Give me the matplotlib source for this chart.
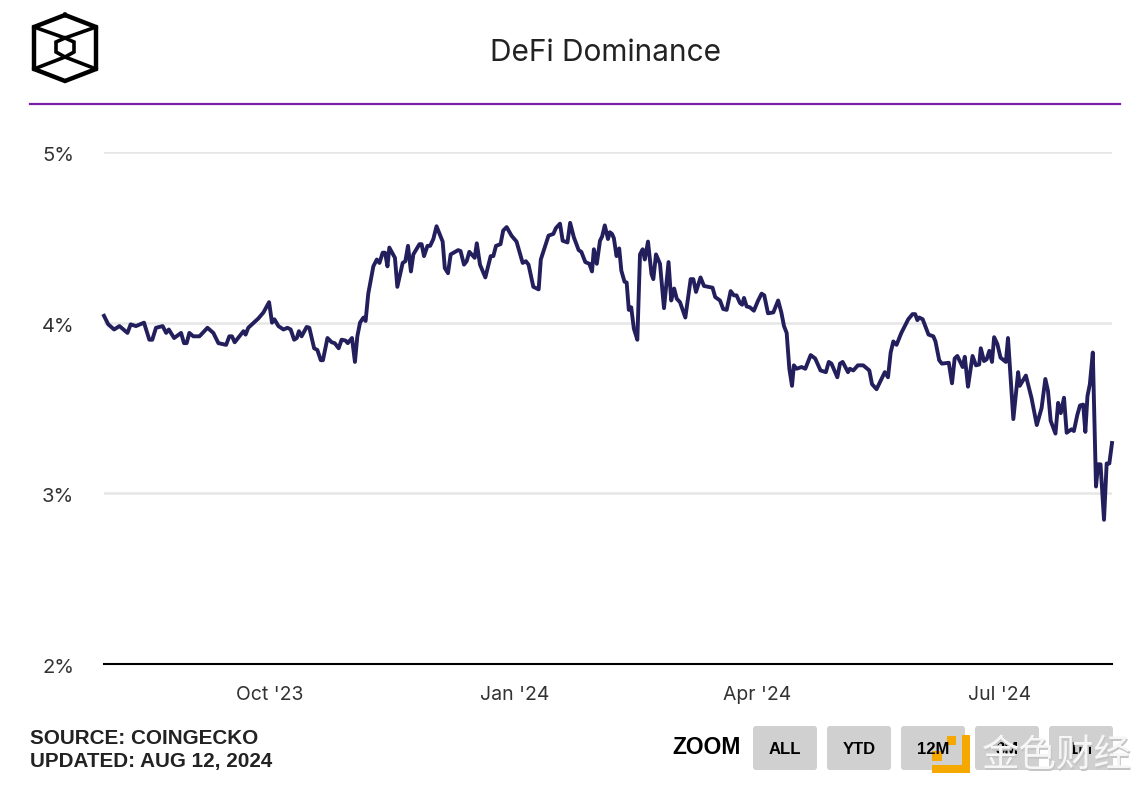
import numpy as np
import pandas as pd
import matplotlib
matplotlib.use('Agg')
from matplotlib import pyplot as plt
from matplotlib.patches import FancyBboxPatch, Rectangle
from matplotlib.transforms import ScaledTranslation

# days since the first point of the series
days = [0, 1.6, 3.8, 5.8, 8.8, 10, 12, 15, 17, 18.1, 19.5, 22, 23.3, 24.3, 26.3, 28.9, 30, 31, 32, 33.5,
        35.8, 38.8, 41, 42.9, 45.8, 47, 48, 49, 52.3, 53.1, 54.1, 57.9, 59.8, 61.9, 63, 63.9, 65.4, 67.3, 68.8, 70,
        71.3, 72.3, 73.1, 74.1, 76, 77, 78.8, 80, 81.3, 82.1, 83.8, 85.4, 86.5, 88, 89.1, 90.6, 91.4, 93, 94.1, 95,
        96, 97.3, 98.1, 99.1, 101, 102.3, 103.3, 104.5, 105.4, 106.3, 107, 109.1, 110, 112, 113, 114, 115.1, 116, 118.3, 119.1,
        120, 121.3, 122.3, 123.5, 124.7, 127, 127.8, 129, 130, 132.8, 133.7, 135, 136, 137, 139, 139.8, 141, 143, 145, 146,
        147, 148.7, 149.7, 151, 152.8, 154.7, 157, 158.2, 159.2, 161, 163, 163.8, 166.7, 168.5, 169.5, 171, 172, 173.8, 174.8, 176.2,
        178, 179, 180.5, 182, 183, 183.7, 184.8, 186, 186.8, 187.8, 189, 189.7, 190.5, 191.2, 192.2, 193.2, 194, 195.2, 196, 196.8,
        197.7, 198.7, 200, 201, 202, 202.8, 204, 205.3, 206, 207, 208.5, 210, 211.7, 212.7, 213.8, 214.8, 216, 218, 220, 221,
        222, 223.7, 225, 228.2, 229.2, 231, 232.2, 233.5, 235, 236.2, 237.2, 238.5, 239.3, 240, 241, 242.2, 243.7, 245.3, 246.6, 247.6,
        249, 251, 252.8, 254, 255, 256, 257, 258, 258.7, 259.7, 261.6, 263, 265, 266.7, 268.7, 270.7, 271.8, 272.8, 275, 276,
        277, 279, 279.7, 281, 282.7, 284.7, 287, 288, 289.7, 292.8, 294, 295, 296, 297.2, 299, 301.6, 303.2, 304.2, 305, 305.7,
        307, 309.2, 311, 311.8, 313.2, 314.2, 316.8, 318, 319, 320, 322, 322.8, 324, 325.7, 327, 328.2, 328.8, 330, 331, 332,
        333, 333.8, 335, 336.2, 338.2, 339, 341, 342.8, 343.4, 345.7, 347.8, 349.8, 351.6, 353, 354, 355, 356.8, 357.8, 358.8, 360,
        361, 362.8, 363.7, 365, 366, 367.2, 368, 368.8, 369.7, 370.8, 372, 372.8, 373.7, 375, 376, 377, 378]
dominance = [4.04, 3.99, 3.96, 3.98, 3.94, 3.99, 3.98, 4.00, 3.90, 3.90, 3.97, 3.98, 3.94, 3.96, 3.91, 3.94, 3.88, 3.88, 3.94, 3.92,
             3.92, 3.97, 3.94, 3.88, 3.87, 3.92, 3.92, 3.885, 3.95, 3.93, 3.97, 4.025, 4.06, 4.12, 4.00, 4.02, 3.98, 3.96, 3.97, 3.96,
             3.90, 3.91, 3.95, 3.92, 3.975, 3.97, 3.85, 3.84, 3.78, 3.78, 3.91, 3.885, 3.88, 3.85, 3.90, 3.895, 3.88, 3.91, 3.77, 3.92,
             4.00, 4.03, 4.01, 4.17, 4.33, 4.37, 4.35, 4.41, 4.41, 4.33, 4.44, 4.38, 4.21, 4.35, 4.36, 4.45, 4.30, 4.40, 4.46, 4.46,
             4.39, 4.45, 4.45, 4.49, 4.565, 4.475, 4.32, 4.29, 4.40, 4.425, 4.42, 4.34, 4.36, 4.415, 4.38, 4.465, 4.34, 4.265, 4.39, 4.39,
             4.45, 4.46, 4.54, 4.56, 4.51, 4.475, 4.35, 4.36, 4.34, 4.21, 4.195, 4.37, 4.51, 4.52, 4.555, 4.58, 4.48, 4.47, 4.585, 4.50,
             4.425, 4.415, 4.355, 4.345, 4.30, 4.43, 4.345, 4.48, 4.505, 4.57, 4.49, 4.53, 4.52, 4.495, 4.39, 4.435, 4.305, 4.24, 4.235, 4.075,
             4.09, 3.965, 3.90, 4.40, 4.43, 4.37, 4.475, 4.285, 4.255, 4.40, 4.345, 4.085, 4.355, 4.13, 4.20, 4.14, 4.12, 4.03, 4.255, 4.255,
             4.18, 4.265, 4.215, 4.205, 4.15, 4.13, 4.08, 4.075, 4.185, 4.16, 4.16, 4.115, 4.105, 4.145, 4.095, 4.09, 4.07, 4.13, 4.17, 4.16,
             4.055, 4.06, 4.13, 4.06, 3.98, 3.94, 3.73, 3.63, 3.75, 3.73, 3.74, 3.73, 3.81, 3.79, 3.72, 3.71, 3.77, 3.76, 3.68, 3.76,
             3.77, 3.71, 3.73, 3.72, 3.75, 3.75, 3.72, 3.64, 3.61, 3.71, 3.68, 3.825, 3.89, 3.87, 3.94, 4.02, 4.05, 4.05, 4.015, 4.03,
             4.02, 3.93, 3.92, 3.89, 3.78, 3.76, 3.765, 3.645, 3.79, 3.805, 3.74, 3.80, 3.625, 3.805, 3.75, 3.755, 3.85, 3.775, 3.785, 3.835,
             3.77, 3.915, 3.875, 3.795, 3.77, 3.91, 3.435, 3.71, 3.63, 3.69, 3.56, 3.40, 3.50, 3.67, 3.60, 3.425, 3.35, 3.53, 3.47, 3.56,
             3.355, 3.375, 3.365, 3.46, 3.515, 3.52, 3.36, 3.57, 3.64, 3.825, 3.04, 3.17, 3.17, 2.845, 3.175, 3.175, 3.295]

start_date = pd.Timestamp('2023-07-31')
x_ticks = ['2023-10-01', '2024-01-01', '2024-04-01', '2024-07-01']
x_labels = ["Oct '23", "Jan '24", "Apr '24", "Jul '24"]
y_ticks = [2, 3, 4, 5]
y_labels = ['2%', '3%', '4%', '5%']
buttons = ['ALL', 'YTD', '12M', '3M', '1M']

W, H = 1144, 788
plt.rcParams['font.family'] = ['Inter', 'DejaVu Sans']
fig = plt.figure(figsize=(W / 100, H / 100), dpi=100, facecolor='white')

ax = fig.add_axes([104 / W, (H - 664) / H, 1008 / W, 512 / H])
dates = start_date + pd.to_timedelta(days, unit='D')
ax.plot(dates, dominance, color='#231f5c', lw=2.8, solid_joinstyle='round', zorder=3, clip_on=False)
ax.set_xlim(start_date, start_date + pd.Timedelta(days=378))
ax.set_ylim(2, 5)
ax.set_xticks(pd.to_datetime(x_ticks))
ax.set_xticklabels(x_labels, fontsize=14, color='#333333')
ax.set_yticks(y_ticks)
ax.set_yticklabels(y_labels, fontsize=14.5, color='#333333', va='center')
ax.tick_params(axis='x', length=0, pad=16)
ax.tick_params(axis='y', length=0, pad=21.5)
ax.grid(axis='y', color='#e6e6e6', lw=1.8)
ax.set_axisbelow(True)
for side in ['top', 'right', 'left']:
    ax.spines[side].set_visible(False)
ax.spines['bottom'].set_color('black')
ax.spines['bottom'].set_linewidth(1.5)
# percent labels sit a little under their gridlines
shift = ScaledTranslation(0, -0.04, fig.dpi_scale_trans)
for lbl in ax.get_yticklabels():
    lbl.set_transform(lbl.get_transform() + shift)

# header, footer and logo are placed in pixel coordinates
px = fig.add_axes([0, 0, 1, 1], zorder=5)
px.set_xlim(0, W)
px.set_ylim(H, 0)
px.axis('off')
px.patch.set_alpha(0)

px.text(606, 52.5, 'DeFi Dominance', ha='center', va='center', fontsize=21.5, color='#222222')
px.plot([30, 1120], [103.5, 103.5], color='#7a1fa8', lw=1.6)

hexagon = np.array([[65, 15], [96, 27], [96, 69], [65, 81], [34, 69], [34, 27], [65, 15]])
inner = np.array([[65, 38], [74, 42], [74, 52], [65, 57], [56, 52], [56, 42], [65, 38]])
px.plot(hexagon[:, 0], hexagon[:, 1], color='black', lw=3.2, solid_joinstyle='miter')
px.plot(inner[:, 0], inner[:, 1], color='black', lw=2.6, solid_joinstyle='miter')
px.plot([34, 65, 96], [27, 38, 27], color='black', lw=2.6)
px.plot([34, 65, 96], [69, 57, 69], color='black', lw=2.6)

src_font = ['Liberation Sans', 'DejaVu Sans']
px.text(30, 738, 'SOURCE: COINGECKO', fontsize=14.9, fontweight='bold', family=src_font, color='#222222', va='center')
px.text(30, 762, 'UPDATED: AUG 12, 2024', fontsize=14.9, fontweight='bold', family=src_font, color='#222222', va='center')
px.text(672, 748, 'ZOOM', fontsize=16.5, fontweight='bold', family=src_font, color='black', va='center')

for i, name in enumerate(buttons):
    left = 753 + 74 * i
    px.add_patch(FancyBboxPatch((left + 3, 729), 58, 38, boxstyle='round,pad=3', fc='#d0d0d0', ec='none'))
    px.text(left + 32, 750, name, ha='center', va='center', fontsize=12, fontweight='bold', family=src_font, color='black')

# watermark in the lower right corner
orange = '#f5a800'
px.add_patch(Rectangle((962, 735), 8, 38, fc=orange, ec='none'))
px.add_patch(Rectangle((932, 765), 38, 8, fc=orange, ec='none'))
px.add_patch(Rectangle((947, 736), 9, 9, fc=orange, ec='none'))
px.add_patch(Rectangle((932, 751), 10, 10, fc=orange, ec='none'))
cjk_font = ['Noto Sans CJK SC', 'DejaVu Sans']
px.text(1058, 757, '金色财经', ha='center', va='center', fontsize=27, family=cjk_font, color='#c4c4c4')
px.text(1056.5, 755.5, '金色财经', ha='center', va='center', fontsize=27, family=cjk_font, color='#f6f6f6')

fig.savefig('out.png', dpi=100)
